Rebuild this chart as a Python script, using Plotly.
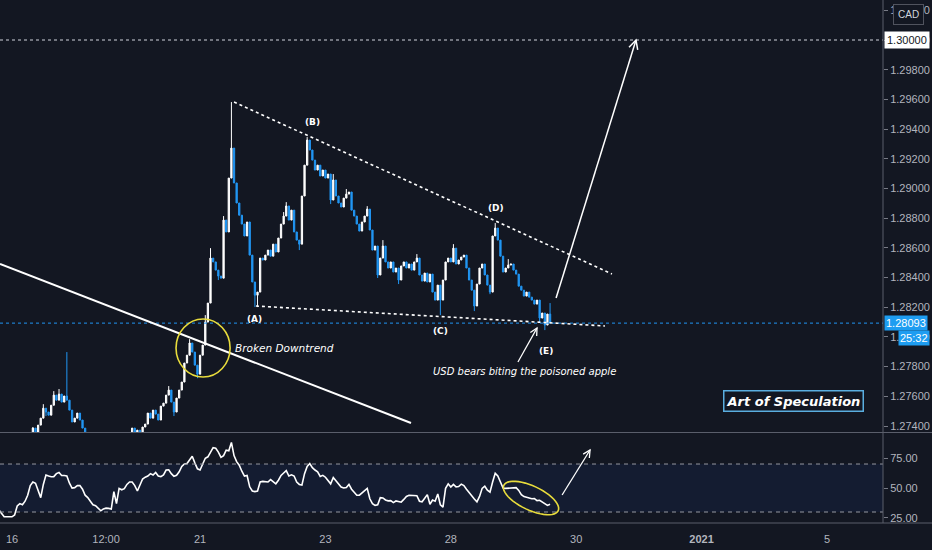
import math
import plotly.graph_objects as go

# ---------------- data ----------------
# hourly bar index, 0 = 16 Dec 00:00 (weekend gaps removed as on TradingView)
bar_index = list(range(-5, 207))

close = [
    1.27225, 1.27204, 1.27238, 1.27218, 1.27251, 1.27265, 1.27244, 1.27278, 1.27265, 1.27298, 1.27285, 1.27318, 1.27345,
    1.27386, 1.27359, 1.27406, 1.27453, 1.27520, 1.27494, 1.27473, 1.27540, 1.27608, 1.27574, 1.27615, 1.27561, 1.27602,
    1.27574, 1.27507, 1.27427, 1.27453, 1.27487, 1.27440, 1.27386, 1.27345,
    1.27318, 1.27292, 1.27265, 1.27238, 1.27225, 1.27204, 1.27218, 1.27198, 1.27225, 1.27238, 1.27258, 1.27244, 1.27278,
    1.27305, 1.27325, 1.27318,
    1.27345, 1.27386, 1.27359, 1.27372, 1.27352, 1.27393, 1.27413, 1.27487, 1.27453, 1.27507, 1.27480, 1.27440, 1.27534,
    1.27554, 1.27608, 1.27642, 1.27561, 1.27494, 1.27588, 1.27642, 1.27696, 1.27824, 1.27877, 1.27959, 1.27898, 1.27810,
    1.27749, 1.27877, 1.27945, 1.28100, 1.28228, 1.28531, 1.28505, 1.28450, 1.28410, 1.28396, 1.28787, 1.28707, 1.29070,
    1.29272, 1.29037, 1.28902, 1.28820, 1.28760, 1.28680, 1.28774, 1.28551, 1.28370, 1.28281, 1.28302, 1.28531,
    1.28518, 1.28551, 1.28585, 1.28544, 1.28625, 1.28572, 1.28666, 1.28760, 1.28814, 1.28882, 1.28787, 1.28854, 1.28707,
    1.28652, 1.28625, 1.28949, 1.29157, 1.29326, 1.29259,
    1.29191, 1.29124, 1.29157, 1.29084, 1.29124, 1.29070, 1.29097, 1.28922, 1.29057, 1.28949, 1.28902, 1.28875, 1.28935,
    1.28962, 1.28976, 1.28854, 1.28814, 1.28760, 1.28713, 1.28774, 1.28814, 1.28861, 1.28720, 1.28585, 1.28612, 1.28417,
    1.28531, 1.28612, 1.28505, 1.28464, 1.28505, 1.28437, 1.28464, 1.28383, 1.28478, 1.28505, 1.28464, 1.28491, 1.28450,
    1.28505, 1.28531, 1.28417, 1.28376, 1.28430, 1.28370, 1.28423, 1.28302, 1.28248, 1.28349, 1.28248, 1.28383, 1.28505,
    1.28531, 1.28505, 1.28598, 1.28491, 1.28518, 1.28538, 1.28551, 1.28464, 1.28383, 1.28315, 1.28208, 1.28356, 1.28464,
    1.28491, 1.28417, 1.28349, 1.28302, 1.28680, 1.28733, 1.28652, 1.28544, 1.28437, 1.28464, 1.28484, 1.28491, 1.28450,
    1.28423, 1.28342, 1.28315, 1.28275, 1.28302, 1.28268, 1.28248, 1.28221, 1.28248, 1.28127, 1.28161, 1.28080, 1.28154,
    1.28093,
]
first_open = 1.27240

# notable wicks beyond the candle bodies
wick_high = {8: 1.27393, 12: 1.27547, 16: 1.27635, 18: 1.27649, 21: 1.27898, 60: 1.27669, 68: 1.27985,
             74: 1.28147, 76: 1.28598, 81: 1.28814, 84: 1.29582, 104: 1.28841, 105: 1.28908, 113: 1.29346,
             120: 1.29117, 123: 1.29097, 128: 1.28996, 136: 1.28881, 142: 1.28652, 155: 1.28558,
             169: 1.28625, 185: 1.28767, 190: 1.28524, 206: 1.28228}
wick_low = {13: 1.27467, 62: 1.27467, 71: 1.27722, 79: 1.28383, 93: 1.28201, 94: 1.28201, 110: 1.28585,
            122: 1.28895, 140: 1.28397, 148: 1.28356, 164: 1.28147, 177: 1.28174, 183: 1.28288,
            202: 1.28100, 204: 1.28046}

rsi = [
    31.7, 29, 26, 26, 26, 26, 27.5, 35, 37, 36, 39, 44, 52,
    55, 54, 48, 42, 53, 60.8, 60, 59.4, 59.5, 62, 63, 60.5, 60.4, 60, 54, 50, 50.3, 52, 52, 49, 44,
    42, 39, 36, 35.3, 33, 31, 32.6, 33.2, 33, 32.5, 47, 37, 49.7, 48.5, 49.5, 53,
    55, 55, 52, 47.5, 52.5, 57.5, 59, 60, 62, 60.8, 63, 60, 59.5, 61, 65, 65.2, 62, 59.8, 60.6, 63.5,
    68, 70, 70.4, 74, 76.5, 71, 66, 65, 70, 74.8, 76, 80, 83.6, 83.2, 80, 75.5, 77, 81.5, 81, 88,
    77, 72, 69, 64, 60, 60.4, 51, 47.5, 47, 47.5, 55,
    55.5, 55, 55, 57, 55.5, 53.5, 56.5, 60.5, 62.5, 64.5, 60, 61, 60, 55, 53, 52.5, 62, 68, 70.4,
    67, 65, 63.5, 59.6, 60.6, 59, 56.5, 53.5, 58.8, 56, 53.5, 50.8, 50, 50.5, 53, 49, 46.5, 44, 44, 46,
    48, 49.7, 41, 37, 35.5, 36, 42, 41.7, 40, 39.3, 39.5, 37.8, 39.2, 38.8, 38.2, 40.5, 43, 44, 43.7,
    43.6, 43.6, 39, 38.5, 41.5, 44.5, 36.5, 40, 39, 45, 36, 34, 49.7,
    53.5, 50.8, 53, 51, 51.2, 53.2, 52, 49, 46, 43, 40.8, 38.5, 43, 49.7, 51.5, 48.2, 46.5, 55, 62.2,
    60, 55, 50, 49.7, 49.7, 49.7, 50, 50.3, 48, 44.5, 42.8, 42.2, 41.5, 41, 41.2, 39.5, 39.8, 38.5,
    36.8, 35.5, 36.5,
]

x_tick_bars = [0, 36, 72, 120, 168, 216, 264, 312]
x_tick_labels = ["16", "12:00", "21", "23", "28", "30", "<b>2021</b>", "5"]
price_ticks = [1.274, 1.276, 1.278, 1.280, 1.282, 1.284, 1.286, 1.288, 1.290, 1.292, 1.294, 1.296, 1.298, 1.300, 1.302]
rsi_ticks = [25, 50, 75]
rsi_levels = [30, 70]
target_price = 1.30000
last_price = close[-1]

assert len(close) == len(bar_index) == len(rsi)

opens = [first_open] + close[:-1]
highs = [max(o, c) for o, c in zip(opens, close)]
lows = [min(o, c) for o, c in zip(opens, close)]
for b, v in wick_high.items():
    k = bar_index.index(b)
    highs[k] = max(highs[k], v)
for b, v in wick_low.items():
    k = bar_index.index(b)
    lows[k] = min(lows[k], v)

# ---------------- layout constants ----------------
W, H = 932, 550
ML, MR, MT, MB = 0, 49, 0, 27
PW, PH = W - ML - MR, H - MT - MB
X_RANGE = [-4.594, 333.46]
P_RANGE = [1.273596, 1.302694]
R_RANGE = [20.83, 95.83]
P_DOM = [0.174, 1.0]
R_DOM = [0.0, 0.172]
PX_PER_BAR = PW / (X_RANGE[1] - X_RANGE[0])
PX_PER_PRICE = PH * (P_DOM[1] - P_DOM[0]) / (P_RANGE[1] - P_RANGE[0])
PX_PER_RSI = PH * (R_DOM[1] - R_DOM[0]) / (R_RANGE[1] - R_RANGE[0])

BG = "#131722"
UP = "#ffffff"
DOWN = "#2196f3"
TXT = "#b2b5be"
SEP = "#5a5e6b"
YEL = "#e8dc3c"

fig = go.Figure()
fig.add_trace(go.Candlestick(
    x=bar_index, open=opens, high=highs, low=lows, close=close,
    increasing=dict(line=dict(color=UP, width=1), fillcolor=UP),
    decreasing=dict(line=dict(color=DOWN, width=1), fillcolor=DOWN),
    whiskerwidth=0, xaxis="x", yaxis="y", showlegend=False, hoverinfo="skip",
))
fig.add_trace(go.Scatter(
    x=bar_index, y=rsi, mode="lines", line=dict(color="#ffffff", width=1.6),
    xaxis="x2", yaxis="y2", showlegend=False, hoverinfo="skip",
))

shapes = []


def line(x0, y0, x1, y1, xref, yref, color, width, dash="solid", layer="above"):
    return dict(type="line", x0=x0, y0=y0, x1=x1, y1=y1, xref=xref, yref=yref,
                line=dict(color=color, width=width, dash=dash), layer=layer)


def arrow(x0, y0, x1, y1, px_per_y, yref, color="#ffffff", width=1.5, head=10, ang=27):
    dxp = (x1 - x0) * PX_PER_BAR
    dyp = (y1 - y0) * px_per_y
    L = math.hypot(dxp, dyp)
    ux, uy = -dxp / L, -dyp / L
    pts = []
    for s in (1, -1):
        a = math.radians(s * ang)
        rx = ux * math.cos(a) - uy * math.sin(a)
        ry = ux * math.sin(a) + uy * math.cos(a)
        pts.append((x1 + rx * head / PX_PER_BAR, y1 + ry * head / px_per_y))
    path = f"M {pts[0][0]},{pts[0][1]} L {x1},{y1} L {pts[1][0]},{pts[1][1]}"
    return [line(x0, y0, x1, y1, "x", yref, color, width),
            dict(type="path", path=path, xref="x", yref=yref, line=dict(color=color, width=width))]


# RSI band and levels
shapes.append(dict(type="rect", xref="paper", yref="y2", x0=0, x1=1, y0=rsi_levels[0], y1=rsi_levels[1],
                   fillcolor="rgba(41,98,255,0.07)", line=dict(width=0), layer="below"))
for lv in rsi_levels:
    shapes.append(line(0, lv, 1, lv, "paper", "y2", "#9598a1", 1, "4px,4px"))

# horizontal target line and current price line
shapes.append(line(0, target_price, 1, target_price, "paper", "y", "#d1d4dc", 1, "3px,3px"))
shapes.append(line(0, last_price, 1, last_price, "paper", "y", DOWN, 1, "dot"))

# broken downtrend (solid white)
shapes.append(line(-4.594, 1.28491, 152.76, 1.27420, "x", "y", "#ffffff", 2))
# triangle dotted lines
shapes.append(line(85.0, 1.29582, 229.7, 1.28424, "x", "y", "#ffffff", 1.6, "dot"))
shapes.append(line(93.4, 1.28208, 227.0, 1.28074, "x", "y", "#ffffff", 1.6, "dot"))

# yellow circle around the break
shapes.append(dict(type="circle", xref="x", yref="y", x0=62.8, x1=83.5, y0=1.27730, y1=1.28121,
                   line=dict(color=YEL, width=1.6)))

# rotated yellow ellipse on RSI
cx, cy = 198.7, 41.67
a_px, b_px, th = 30, 12, math.radians(25)
ell = []
for k in range(49):
    t = 2 * math.pi * k / 48
    px = a_px * math.cos(t) * math.cos(th) - b_px * math.sin(t) * math.sin(th)
    py = a_px * math.cos(t) * math.sin(th) + b_px * math.sin(t) * math.cos(th)
    ell.append((cx + px / PX_PER_BAR, cy - py / PX_PER_RSI))
ell_path = "M " + " L ".join(f"{p[0]},{p[1]}" for p in ell) + " Z"
shapes.append(dict(type="path", path=ell_path, xref="x", yref="y2", line=dict(color=YEL, width=1.6)))

# arrows
shapes += arrow(208.3, 1.28262, 238.9, 1.30000, PX_PER_PRICE, "y")
shapes += arrow(193.7, 1.27831, 201.0, 1.28060, PX_PER_PRICE, "y", width=1.3, head=8)
shapes += arrow(210.6, 44.2, 221.3, 81.7, PX_PER_RSI, "y2", width=1.3, head=8)

# pane separators / axis lines
xr = W / PW
shapes.append(line(0, 1 - 432.5 / PH, xr, 1 - 432.5 / PH, "paper", "paper", SEP, 1))
shapes.append(line(0, 0, xr, 0, "paper", "paper", SEP, 1))
shapes.append(line(1, 0, 1, 1, "paper", "paper", SEP, 1))

annotations = []


def label(txt, x, y, size=9):
    annotations.append(dict(text=f"<b>{txt}</b>", x=x, y=y, xref="x", yref="y", showarrow=False,
                            yanchor="middle",
                            font=dict(family="DejaVu Sans", size=size, color="#ffffff")))


label("(A)", 93.0, 1.28121)
label("(B)", 114.9, 1.29448)
label("(C)", 164.2, 1.28040)
label("(D)", 185.3, 1.28868)
label("(E)", 204.4, 1.27905)

annotations.append(dict(text="<i>Broken Downtrend</i>", x=84.6, y=1.27925, xref="x", yref="y",
                        xanchor="left", yanchor="middle", showarrow=False,
                        font=dict(family="DejaVu Sans", size=10.5, color="#ffffff")))
annotations.append(dict(text="<i>USD bears biting the poisoned apple</i>", x=196.2, y=1.27764,
                        xref="x", yref="y", yanchor="middle", showarrow=False,
                        font=dict(family="DejaVu Sans", size=10, color="#ffffff")))
annotations.append(dict(text="<b><i>Art of Speculation</i></b>", x=299.2, y=1.27568, xref="x", yref="y",
                        yanchor="middle", showarrow=False, bgcolor=BG, bordercolor="#5aaee0",
                        borderwidth=1.5, borderpad=2,
                        font=dict(family="DejaVu Sans", size=13, color="#ffffff")))

# right axis price labels
annotations.append(dict(text="1.30000", x=1, xref="paper", y=target_price, yref="y", xanchor="left",
                        yanchor="middle", xshift=1, showarrow=False, bgcolor="#ffffff", borderpad=2,
                        font=dict(family="Liberation Sans", size=11, color="#131722")))
annotations.append(dict(text=f"{last_price:.5f}", x=1, xref="paper", y=last_price, yref="y", xanchor="left",
                        yanchor="middle", xshift=1, showarrow=False, bgcolor="#1e9df1", borderpad=1,
                        font=dict(family="Liberation Sans", size=11, color="#ffffff")))
annotations.append(dict(text="25:32", x=1, xref="paper", y=1.27993, yref="y", xanchor="left",
                        yanchor="middle", xshift=15, showarrow=False, bgcolor="#1e9df1", borderpad=1,
                        font=dict(family="Liberation Sans", size=11, color="#ffffff")))
annotations.append(dict(text="CAD", x=1, xref="paper", y=1 - 15 / PH, yref="paper", xanchor="left",
                        yanchor="middle", xshift=10, showarrow=False, bgcolor=BG, bordercolor="#50535e",
                        borderwidth=1, borderpad=4,
                        font=dict(family="Liberation Sans", size=10, color="#d1d4dc")))

tickfont = dict(family="Liberation Sans", size=11, color=TXT)

fig.update_layout(
    width=W, height=H, margin=dict(l=ML, r=MR, t=MT, b=MB),
    paper_bgcolor=BG, plot_bgcolor=BG, showlegend=False,
    shapes=shapes, annotations=annotations,
    xaxis=dict(domain=[0, 1], anchor="y", range=X_RANGE, showticklabels=False, showgrid=False,
               zeroline=False, rangeslider=dict(visible=False), fixedrange=True),
    xaxis2=dict(domain=[0, 1], anchor="y2", range=X_RANGE, matches="x", showgrid=False, zeroline=False,
                tickvals=x_tick_bars, ticktext=x_tick_labels, ticks="outside", ticklen=6,
                tickcolor=BG, tickfont=tickfont),
    yaxis=dict(domain=P_DOM, anchor="x", side="right", range=P_RANGE, tickvals=price_ticks,
               tickformat=".5f", ticks="outside", ticklen=4, tickcolor="#787b86",
               showgrid=False, zeroline=False, tickfont=tickfont),
    yaxis2=dict(domain=R_DOM, anchor="x2", side="right", range=R_RANGE, tickvals=rsi_ticks,
                tickformat=".2f", ticks="outside", ticklen=4, tickcolor="#787b86",
                showgrid=False, zeroline=False, tickfont=tickfont),
)

fig.write_html(
    "out.html",
    config={"displayModeBar": False},
    post_script="document.body.style.margin='0';document.body.style.background='#131722';",
)
